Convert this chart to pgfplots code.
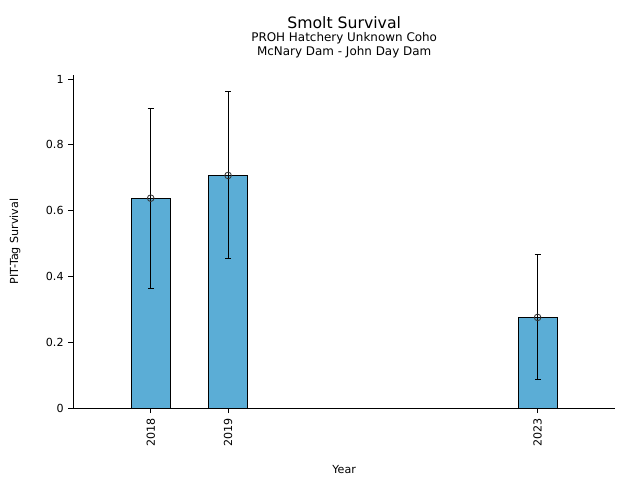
\documentclass[border=0pt]{standalone}
\usepackage{fontspec}
\setmainfont{DejaVu Sans}
\usepackage{pgfplots}
\pgfplotsset{compat=1.18}
\usepackage{pgfplotstable}
\definecolor{barblue}{HTML}{5BADD6}
\pgfplotstableread{
x y ep em
2018 0.638 0.273 0.273
2019 0.707 0.256 0.251
2023 0.276 0.192 0.188
}\datatable
\begin{document}
\begin{tikzpicture}
\useasboundingbox (-52.8pt,-51.6pt) rectangle (408.0pt,294.0pt);
\begin{axis}[
  at={(0,0)}, anchor=south west,
  scale only axis, width=390pt, height=240pt,
  xmin=2017, xmax=2024, ymin=0, ymax=1.012,
  axis x line*=bottom, axis y line*=left,
  axis line style={-, line width=0.6pt},
  tick align=outside, major tick length=3.5pt,
  tick style={line width=0.6pt, black},
  xtick={2018,2019,2023},
  xticklabels={2018,2019,2023},
  x tick label style={rotate=90, anchor=east, font=\fontsize{8}{9}\selectfont},
  ytick={0,0.2,0.4,0.6,0.8,1},
  yticklabels={0,0.2,0.4,0.6,0.8,1},
  y tick label style={font=\fontsize{8}{9}\selectfont},
  /pgf/number format/assume math mode=true,
  clip=false,
]
\addplot[ybar, bar width=0.5, fill=barblue, draw=black, line width=0.6pt] table[x=x,y=y] {\datatable};
\addplot[only marks, mark=o, mark size=2.4pt, mark options={draw=black!80, line width=0.6pt},
  error bars/.cd, y dir=both, y explicit, error bar style={black, line width=0.6pt},
  error mark options={rotate=90, mark size=2.2pt, line width=0.6pt}]
  table[x=x, y=y, y error plus=ep, y error minus=em] {\datatable};
\end{axis}
\node[font=\fontsize{8}{9}\selectfont] at (195pt,-44.2pt) {Year};
\node[font=\fontsize{8}{9}\selectfont, rotate=90] at (-42pt,120pt) {PIT-Tag Survival};
\node[font=\fontsize{11.3}{13}\selectfont] at (195pt,277.6pt) {Smolt Survival};
\node[font=\fontsize{8.6}{10}\selectfont] at (195pt,266.5pt) {PROH Hatchery Unknown Coho};
\node[font=\fontsize{8.6}{10}\selectfont] at (195pt,256.4pt) {McNary Dam - John Day Dam};
\end{tikzpicture}
\end{document}
